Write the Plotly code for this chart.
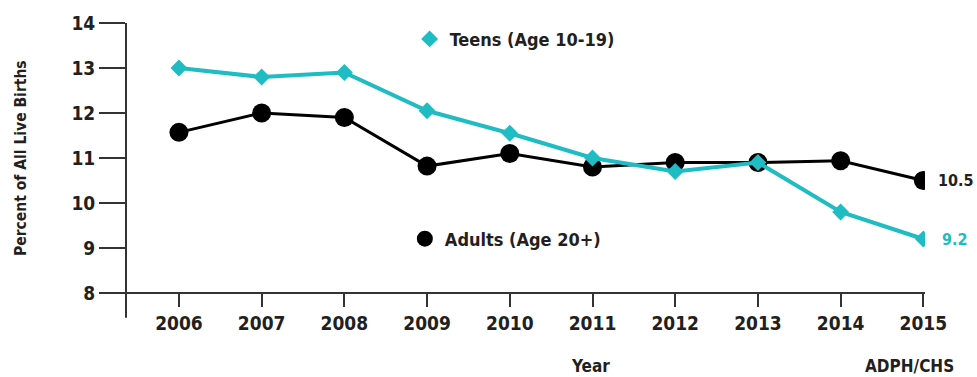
import plotly.graph_objects as go

years = [2006, 2007, 2008, 2009, 2010, 2011, 2012, 2013, 2014, 2015]
teens = [13.0, 12.8, 12.9, 12.05, 11.55, 11.0, 10.7, 10.9, 9.8, 9.2]
adults = [11.57, 12.0, 11.9, 10.82, 11.1, 10.8, 10.9, 10.9, 10.94, 10.5]
y_ticks = [8, 9, 10, 11, 12, 13, 14]

TEAL = "#1FBCC3"
INK = "#231F20"
AXIS = "#333333"
FONT = "DejaVu Sans Condensed, Liberation Sans Narrow, Roboto, sans-serif"


def font(size, color=INK):
    return dict(family=FONT, size=size, color=color, weight="bold")


fig = go.Figure()

fig.add_trace(go.Scatter(
    x=years, y=adults, mode="lines+markers", showlegend=False,
    line=dict(color="#000000", width=3),
    marker=dict(symbol="circle", size=19, color="#000000"),
))
fig.add_trace(go.Scatter(
    x=years, y=teens, mode="lines+markers", showlegend=False,
    line=dict(color=TEAL, width=4),
    marker=dict(symbol="diamond", size=13, color=TEAL),
))

# legend entries (marker only)
fig.add_trace(go.Scatter(
    x=[None], y=[None], mode="markers", name="Teens (Age 10-19)",
    marker=dict(symbol="diamond", size=13, color=TEAL), legend="legend",
))
fig.add_trace(go.Scatter(
    x=[None], y=[None], mode="markers", name="Adults (Age 20+)",
    marker=dict(symbol="circle", size=19, color="#000000"), legend="legend2",
))

legend_style = dict(
    font=font(18), bgcolor="rgba(0,0,0,0)", itemwidth=30,
    xanchor="left", yanchor="middle", tracegroupgap=0,
)
fig.update_layout(
    legend=dict(x=0.355, y=0.94, **legend_style),
    legend2=dict(x=0.349, y=0.20, **legend_style),
)

# end-of-series value labels
fig.add_annotation(x=years[-1], y=adults[-1], text=f"{adults[-1]:.1f}", showarrow=False,
                   xanchor="left", xshift=13, font=font(16))
fig.add_annotation(x=years[-1], y=teens[-1], text=f"{teens[-1]:.1f}", showarrow=False,
                   xanchor="left", xshift=17, font=font(16, TEAL))

# axis titles and source
fig.add_annotation(x=(590 - 126) / 799, y=-(367 - 293) / 272, xref="paper", yref="paper",
                   text="Year", showarrow=False, xanchor="center", yanchor="middle",
                   font=font(17))
fig.add_annotation(x=(909 - 126) / 799, y=-(367 - 293) / 272, xref="paper", yref="paper",
                   text="ADPH/CHS", showarrow=False, xanchor="center", yanchor="middle",
                   font=font(17))
fig.add_annotation(x=-(126 - 21) / 799, y=(293 - 157) / 272, xref="paper", yref="paper",
                   text="Percent of All Live Births", showarrow=False, textangle=-90,
                   xanchor="center", yanchor="middle", font=font(15.5))

# axis lines extended past the plot corner
fig.add_shape(type="line", xref="paper", yref="paper", x0=0, x1=0, y0=-25 / 272, y1=1,
              line=dict(color=AXIS, width=2))
fig.add_shape(type="line", xref="paper", yref="paper", x0=-26 / 799, x1=1, y0=0, y1=0,
              line=dict(color=AXIS, width=2))

fig.update_xaxes(
    range=[2005.36, 2015.02], tickvals=years, ticktext=[str(y) for y in years],
    ticks="outside", ticklen=13, tickwidth=2, tickcolor=AXIS,
    showgrid=False, zeroline=False, showline=False,
    tickfont=font(19),
)
fig.update_yaxes(
    range=[8, 14], tickvals=y_ticks, ticktext=[str(v) for v in y_ticks],
    ticks="outside", ticklen=26, tickwidth=2, tickcolor=AXIS,
    showgrid=False, zeroline=False, showline=False,
    tickfont=font(19),
)

fig.update_layout(
    width=977, height=377,
    margin=dict(l=126, r=52, t=21, b=84),
    paper_bgcolor="white", plot_bgcolor="white",
)

fig.write_html("out.html")
